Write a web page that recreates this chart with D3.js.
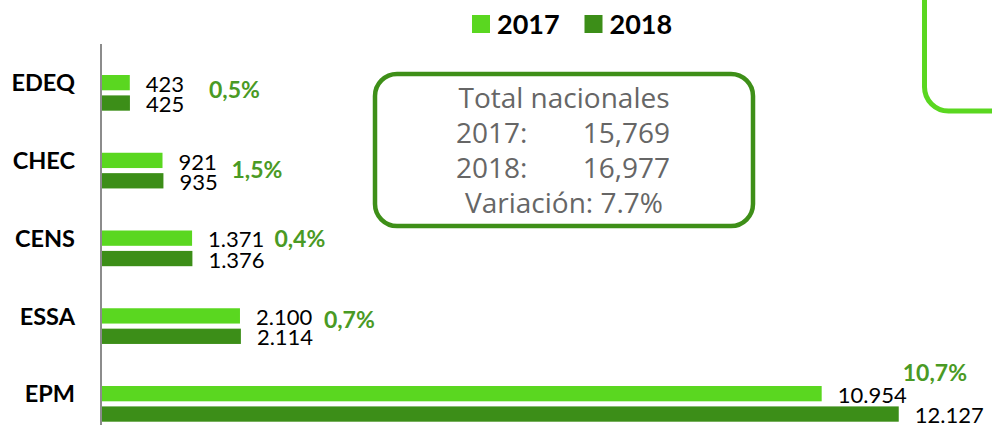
<!DOCTYPE html>
<html>
<head>
<meta charset="utf-8">
<script src="https://cdn.jsdelivr.net/npm/d3@7"></script>
<style>
  body { margin: 0; background: #fff; }
  svg { display: block; }
</style>
</head>
<body>
<div class="chart"></div>
<script>
// data
var companies = ["EDEQ", "CHEC", "CENS", "ESSA", "EPM"];
var values2017 = [423, 921, 1371, 2100, 10954];
var values2018 = [425, 935, 1376, 2114, 12127];
var valueLabels2017 = ["423", "921", "1.371", "2.100", "10.954"];
var valueLabels2018 = ["425", "935", "1.376", "2.114", "12.127"];
var variations = ["0,5%", "1,5%", "0,4%", "0,7%", "10,7%"];
var years = ["2017", "2018"];
var totalLines = ["Total nacionales", "2017:", "2018:", "Variación: 7.7%"];
var totalValues = ["15,769", "16,977"];

var svgWidth = 992;
var svgHeight = 425;

var colors = { "2017": "#5ad720", "2018": "#3c8e18" };
var pctColor = "#4a9a24";

var svg = d3.select(".chart")
  .append("svg")
  .attr("width", svgWidth)
  .attr("height", svgHeight);

// scales
var xScale = d3.scaleLinear()
  .domain([0, 14000])
  .range([102, 102 + 14000 * 0.0657]);

var yScale = d3.scaleBand()
  .domain(companies)
  .range([75, 421.7])
  .paddingInner(0.541)
  .paddingOuter(0);

var ySub = d3.scaleBand()
  .domain(years)
  .range([0, yScale.bandwidth()])
  .paddingInner(0.25);

var rows = companies.map(function(c, i) {
  return { name: c, v: [values2017[i], values2018[i]], lab: [valueLabels2017[i], valueLabels2018[i]], pct: variations[i] };
});

// vertical axis line
svg.append("line")
  .attr("x1", 101).attr("x2", 101)
  .attr("y1", 44).attr("y2", 425)
  .attr("stroke", "#8c8c8c")
  .attr("stroke-width", 2);

var groups = svg.selectAll(".row")
  .data(rows)
  .enter()
  .append("g")
  .attr("class", "row")
  .attr("transform", d => `translate(0, ${yScale(d.name)})`);

// bars
groups.selectAll("rect")
  .data(d => years.map((y, j) => ({ year: y, value: d.v[j], label: d.lab[j] })))
  .enter()
  .append("rect")
  .attr("x", xScale(0))
  .attr("y", d => ySub(d.year))
  .attr("width", d => xScale(d.value) - xScale(0))
  .attr("height", ySub.bandwidth())
  .attr("fill", d => colors[d.year]);

// value labels
groups.selectAll(".val")
  .data(d => years.map((y, j) => ({ year: y, value: d.v[j], label: d.lab[j] })))
  .enter()
  .append("text")
  .attr("class", "val")
  .attr("x", d => xScale(d.value) + 16)
  .attr("y", d => ySub(d.year) + ySub.bandwidth() + 1.5)
  .style("font-family", "Lato, sans-serif")
  .style("font-size", "22px")
  .style("fill", "#000")
  .text(d => d.label);

// category labels
groups.append("text")
  .attr("x", 75)
  .attr("y", ySub("2017") + ySub.bandwidth() + 1)
  .attr("text-anchor", "end")
  .style("font-family", "Lato, sans-serif")
  .style("font-weight", "bold")
  .style("font-size", "23.5px")
  .style("fill", "#000")
  .text(d => d.name);

// variation labels (hand placed like the original slide)
var pctNudge = [[79, 23], [68, 25], [82, 16], [83, 20], [4, -5]];
groups.append("text")
  .attr("x", (d, i) => xScale(d.v[1]) + pctNudge[i][0])
  .attr("y", (d, i) => pctNudge[i][1])
  .style("font-family", "Lato, sans-serif")
  .style("font-weight", "bold")
  .style("font-size", "23px")
  .style("fill", pctColor)
  .text(d => d.pct);

// legend
var legendX = [472, 584.5];
years.forEach(function(y, i) {
  svg.append("rect")
    .attr("x", legendX[i]).attr("y", 15)
    .attr("width", 18).attr("height", 18)
    .attr("fill", colors[y]);
  svg.append("text")
    .attr("x", legendX[i] + 25).attr("y", 33.5)
    .style("font-family", "Lato, sans-serif")
    .style("font-weight", "bold")
    .style("font-size", "27px")
    .style("fill", "#000")
    .text(y);
});

// totals box
svg.append("rect")
  .attr("x", 375).attr("y", 74)
  .attr("width", 378).attr("height", 152)
  .attr("rx", 22).attr("ry", 22)
  .attr("fill", "none")
  .attr("stroke", "#3e8f18")
  .attr("stroke-width", 4.5);

var boxText = svg.append("g")
  .style("font-family", "'Open Sans', sans-serif")
  .style("font-size", "28px")
  .style("fill", "#666");

boxText.append("text").attr("x", 564).attr("y", 107.5).attr("text-anchor", "middle").text(totalLines[0]);
boxText.append("text").attr("x", 456).attr("y", 142.5).text(totalLines[1]);
boxText.append("text").attr("x", 670).attr("y", 142.5).attr("text-anchor", "end").text(totalValues[0]);
boxText.append("text").attr("x", 456).attr("y", 177.5).text(totalLines[2]);
boxText.append("text").attr("x", 670).attr("y", 177.5).attr("text-anchor", "end").text(totalValues[1]);
boxText.append("text").attr("x", 564).attr("y", 212.5).attr("text-anchor", "middle").text(totalLines[3]);

// partial box at the top right
svg.append("rect")
  .attr("x", 924.5).attr("y", -60)
  .attr("width", 140).attr("height", 171)
  .attr("rx", 24).attr("ry", 24)
  .attr("fill", "none")
  .attr("stroke", "#5ad720")
  .attr("stroke-width", 5);
</script>
</body>
</html>
